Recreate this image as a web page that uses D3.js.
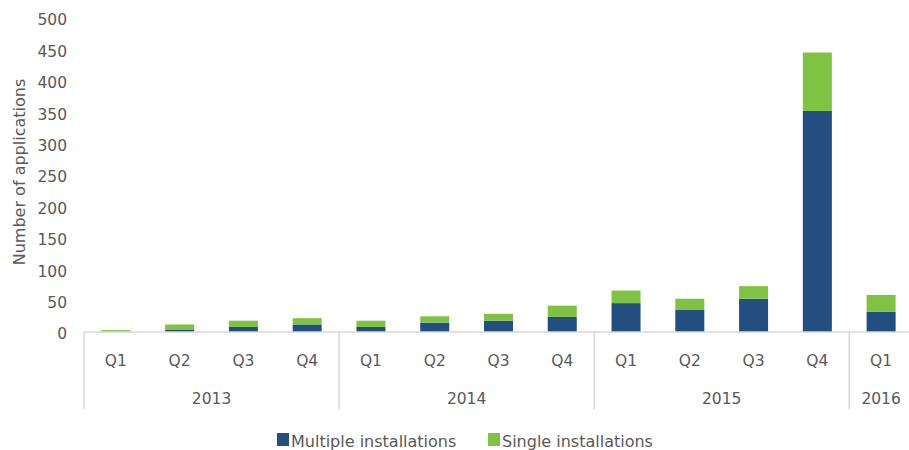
<!DOCTYPE html>
<html>
<head>
<meta charset="utf-8">
<script src="https://cdn.jsdelivr.net/npm/d3@7"></script>
<style>
  body { margin: 0; background: #fff; }
  text { font-family: "DejaVu Sans", "Noto Sans", sans-serif; fill: #595959; }
</style>
</head>
<body>
<div id="chart"></div>
<script>
// Chart data
var quarters = ["Q1", "Q2", "Q3", "Q4", "Q1", "Q2", "Q3", "Q4", "Q1", "Q2", "Q3", "Q4", "Q1"];
var years = ["2013", "2013", "2013", "2013", "2014", "2014", "2014", "2014", "2015", "2015", "2015", "2015", "2016"];
var multiple = [0, 4, 8, 12, 8, 15, 18, 24, 46, 35, 53, 352, 32];
var single = [3, 8, 10, 10, 10, 10, 11, 18, 20, 18, 20, 93, 27];
var yTicks = [0, 50, 100, 150, 200, 250, 300, 350, 400, 450, 500];
var seriesNames = ["Multiple installations", "Single installations"];
var colors = ["#254e80", "#80c342"];

var svgWidth = 909;
var svgHeight = 450;

var svg = d3.select("#chart")
  .append("svg")
  .attr("width", svgWidth)
  .attr("height", svgHeight);

// Build rows for stacking
var rows = quarters.map(function(q, i) {
  return { idx: i, quarter: q, year: years[i], multiple: multiple[i], single: single[i] };
});

var xScale = d3.scaleBand()
  .domain(rows.map(d => d.idx))
  .range([84, 913])
  .paddingInner(0.545)
  .paddingOuter(0.2725);

var yScale = d3.scaleLinear()
  .domain([0, 500])
  .range([332, 18]);

// y axis labels only
var yAxis = svg.append("g")
  .attr("transform", "translate(70,0)")
  .call(d3.axisLeft(yScale).tickValues(yTicks).tickSize(0).tickPadding(3));
yAxis.select(".domain").remove();
yAxis.selectAll("text")
  .attr("dy", "0.45em")
  .style("font-size", "15.5px")
  .style("font-family", "'DejaVu Sans', sans-serif")
  .attr("fill", "#595959");

// y axis title
svg.append("text")
  .attr("transform", "translate(25,172) rotate(-90)")
  .attr("text-anchor", "middle")
  .style("font-size", "16px")
  .text("Number of applications");

// stacked bars
var stack = d3.stack().keys(["multiple", "single"]);
var layers = stack(rows);

svg.selectAll(".layer")
  .data(layers)
  .enter()
  .append("g")
  .attr("class", "layer")
  .attr("fill", (d, i) => colors[i])
  .selectAll("rect")
  .data(d => d)
  .enter()
  .append("rect")
  .attr("x", d => xScale(d.data.idx))
  .attr("width", xScale.bandwidth())
  .attr("y", d => yScale(d[1]))
  .attr("height", d => yScale(d[0]) - yScale(d[1]));

// x axis line
var axisColor = "#d9d9d9";
svg.append("line")
  .attr("x1", 84).attr("x2", svgWidth)
  .attr("y1", yScale(0)).attr("y2", yScale(0))
  .attr("stroke", axisColor)
  .attr("stroke-width", 1.5);

// quarter labels
svg.selectAll(".qlabel")
  .data(rows)
  .enter()
  .append("text")
  .attr("class", "qlabel")
  .attr("x", d => xScale(d.idx) + xScale.bandwidth() / 2)
  .attr("y", 366)
  .attr("text-anchor", "middle")
  .style("font-size", "15.5px")
  .text(d => d.quarter);

// year groups
var yearGroups = d3.groups(rows, d => d.year);
var step = xScale.step();
var x0 = xScale.range()[0];

yearGroups.forEach(function(g) {
  var first = g[1][0].idx;
  var last = g[1][g[1].length - 1].idx;
  var left = x0 + first * step;
  var right = x0 + (last + 1) * step;
  svg.append("line")
    .attr("x1", left).attr("x2", left)
    .attr("y1", yScale(0)).attr("y2", 409)
    .attr("stroke", axisColor)
    .attr("stroke-width", 1.5);
  svg.append("text")
    .attr("x", (left + Math.min(right, 913)) / 2)
    .attr("y", 404)
    .attr("text-anchor", "middle")
    .style("font-size", "15.5px")
    .text(g[0]);
});

// legend
var legendX = [277, 488];
seriesNames.forEach(function(name, i) {
  svg.append("rect")
    .attr("x", legendX[i])
    .attr("y", 433)
    .attr("width", 12)
    .attr("height", 13)
    .attr("fill", colors[i]);
  svg.append("text")
    .attr("x", legendX[i] + 14)
    .attr("y", 447)
    .style("font-size", "16px")
    .text(name);
});
</script>
</body>
</html>
